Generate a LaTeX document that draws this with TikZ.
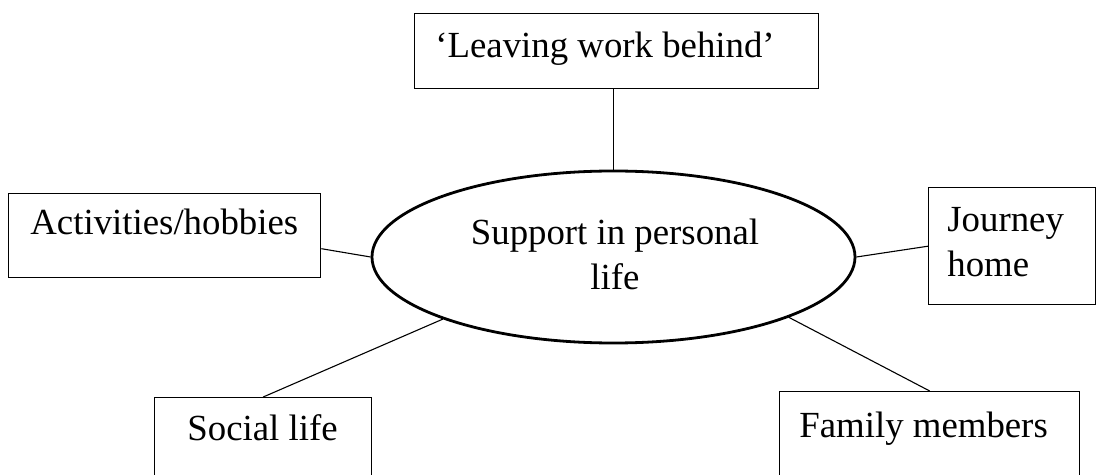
\documentclass[tikz,border=0pt]{standalone}
\usepackage{fontspec}
\setmainfont{Liberation Serif}
\usetikzlibrary{shapes.geometric}
\begin{document}
\begin{tikzpicture}[x=0.5pt,y=-0.5pt,
  box/.style={draw, rectangle, line width=0.7pt, inner sep=0pt, anchor=north west},
  hub/.style={draw, ellipse, line width=1.4pt, inner sep=0pt,
              minimum width=241.5pt, minimum height=86pt},
  lbl/.style={inner sep=0pt, font=\fontsize{18.4}{22.5}\selectfont},
  link/.style={line width=0.55pt}]
\clip (0,0) rectangle (1096,475);

% central topic
\node[hub] (ell) at (613.5,257) {};
\node[lbl, anchor=base] (hubA) at (615,245) {Support in personal};
\node[lbl, anchor=base] (hubB) at (615,290) {life};

% surrounding boxes
\node[box, minimum width=202pt, minimum height=37.5pt] (leave) at (414,13) {};
\node[lbl, anchor=base west] (leaveT) at (435,58) {‘Leaving work behind’};

\node[box, minimum width=156pt, minimum height=42pt] (act) at (8,193) {};
\node[lbl, anchor=base west] (actT) at (30,235) {Activities/hobbies};

\node[box, minimum width=83.5pt, minimum height=58.5pt] (jou) at (928,187) {};
\node[lbl, anchor=base west] (jouA) at (947,232) {Journey};
\node[lbl, anchor=base west] (jouB) at (947,277) {home};

\node[box, minimum width=108.5pt, minimum height=50pt] (soc) at (154,397) {};
\node[lbl, anchor=base] (socT) at (262.5,440) {Social life};

\node[box, minimum width=150pt, minimum height=55pt] (fam) at (779,391) {};
\node[lbl, anchor=base west] (famT) at (799,437) {Family members};

% connectors
\draw[link] (ell.north |- leave.south) -- (ell.north);
\draw[link] ([yshift=-6.5pt]act.east) -- (ell.west);
\draw[link] (ell.east) -- (jou.west);
\draw[link] (soc.north) -- (ell.200);
\draw[link] (ell.-19) -- (fam.north);
\end{tikzpicture}
\end{document}
